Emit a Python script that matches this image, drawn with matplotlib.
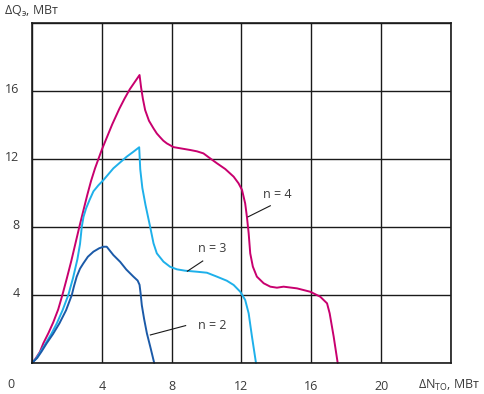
import matplotlib
matplotlib.use("Agg")
import matplotlib.pyplot as plt
import matplotlib.transforms as mtransforms

plt.rcParams['font.family'] = ['Open Sans', 'DejaVu Sans']

# Data
n4_x = [0, 0.2, 0.45, 0.65, 0.95, 1.22, 1.5, 1.74, 2.0, 2.25, 2.48, 2.71, 2.95, 3.17, 3.38, 3.61,
        3.84, 4.0, 4.3, 4.6, 5.0, 5.3, 5.6, 5.9, 6.16, 6.25, 6.35, 6.48, 6.7, 6.96, 7.15, 7.34, 7.52,
        7.72, 8.1, 8.49, 9.06, 9.45, 9.82, 10.2, 10.59, 11.07, 11.55, 11.83, 12.03, 12.21, 12.31,
        12.41, 12.5, 12.65, 12.88, 13.27, 13.65, 14.03, 14.41, 15.18, 15.94, 16.51, 16.9, 17.05,
        17.28, 17.51]
n4_y = [0, 0.25, 0.65, 1.16, 1.78, 2.4, 3.15, 4.0, 5.0, 6.0, 7.0, 8.0, 9.0, 9.9, 10.7, 11.45,
        12.1, 12.55, 13.3, 14.05, 14.95, 15.55, 16.1, 16.55, 16.94, 16.2, 15.55, 14.88, 14.25, 13.8, 13.5, 13.28, 13.08,
        12.92, 12.7, 12.63, 12.53, 12.45, 12.33, 12.04, 11.75, 11.41, 10.96, 10.57, 10.18, 9.39, 8.6,
        7.63, 6.45, 5.67, 5.08, 4.69, 4.49, 4.43, 4.49, 4.39, 4.19, 3.9, 3.51, 2.92,
        1.55, 0]

n3_x = [0, 0.25, 0.5, 0.75, 1.1, 1.42, 1.75, 2.08, 2.35, 2.6, 2.75, 2.85, 2.95, 3.1, 3.3, 3.52,
        3.8, 4.09, 4.66, 5.43, 5.8, 6.14, 6.2, 6.32, 6.5, 6.77, 6.96, 7.15, 7.53, 7.91, 8.3, 8.77,
        9.44, 10.02, 10.59, 11.16, 11.55, 11.93, 12.21, 12.41, 12.6, 12.83]
n3_y = [0, 0.28, 0.68, 1.1, 1.7, 2.33, 3.1, 4.0, 5.0, 6.1, 7.0, 8.0, 8.6, 9.1, 9.6, 10.1,
        10.45, 10.76, 11.45, 12.14, 12.42, 12.69, 11.4, 10.3, 9.3, 8.0, 7.04, 6.45, 5.96, 5.66, 5.51, 5.43,
        5.37, 5.31, 5.08, 4.84, 4.59, 4.19, 3.71, 2.92, 1.55, 0]

n2_x = [0, 0.3, 0.55, 0.84, 1.2, 1.57, 1.95, 2.28, 2.4, 2.56, 2.75, 2.94, 3.2, 3.52, 3.85, 4.1,
        4.28, 4.66, 5.05, 5.4, 5.81, 6.05, 6.16, 6.22, 6.29, 6.42, 6.58, 6.8, 7.0]
n2_y = [0, 0.3, 0.68, 1.16, 1.7, 2.33, 3.1, 4.0, 4.5, 5.08, 5.55, 5.86, 6.25, 6.55, 6.75, 6.84,
        6.84, 6.35, 5.95, 5.5, 5.08, 4.85, 4.6, 4.1, 3.4, 2.6, 1.75, 0.85, 0]

x_ticks = [4, 8, 12, 16, 20]
y_ticks = [4, 8, 12, 16]
labels = ["n = 4", "n = 3", "n = 2"]
label_pos = [(14.05, 9.9), (10.3, 6.75), (10.35, 2.2)]
leader_from = [(13.65, 9.25), (9.78, 6.0), (8.8, 2.2)]
leader_to = [(12.38, 8.6), (8.9, 5.4), (6.78, 1.65)]

colors = ["#c8006e", "#1eb0ea", "#1b5aa8"]
txt_color = "#3a3a3a"

fig = plt.figure(figsize=(4.85, 3.94), dpi=100)
ax = fig.add_axes([32/485, 31/394, (451-32)/485, (363-23)/394])
ax.set_xlim(0, 24)
ax.set_ylim(0, 20)

ax.set_xticks([0] + x_ticks + [24])
ax.set_xticklabels([""] + [str(v) for v in x_ticks] + [""])
ax.set_yticks([0] + y_ticks + [20])
ax.set_yticklabels([""] + [str(v) for v in y_ticks] + [""])
ax.tick_params(length=0, labelsize=9, colors=txt_color)
ax.tick_params(axis='x', pad=12)
ax.tick_params(axis='y', pad=9)
ax.grid(True, color="#1a1a1a", linewidth=1.0)
ax.set_axisbelow(True)
for s in ax.spines.values():
    s.set_color("#1a1a1a")
    s.set_linewidth(1.2)

offset = mtransforms.ScaledTranslation(0, 3/100, fig.dpi_scale_trans)
for lab in ax.get_yticklabels():
    lab.set_transform(lab.get_transform() + offset)

for xs, ys, c in zip([n4_x, n3_x, n2_x], [n4_y, n3_y, n2_y], colors):
    ax.plot(xs, ys, color=c, linewidth=1.4, clip_on=False,
            solid_joinstyle='round', solid_capstyle='round')

for lab, pos, f, t in zip(labels, label_pos, leader_from, leader_to):
    ax.text(pos[0], pos[1], lab, fontsize=9, color=txt_color, ha='center', va='center')
    ax.plot([f[0], t[0]], [f[1], t[1]], color="#1a1a1a", linewidth=0.8)

fig.text(11/485, 1 - 385/394, "0", fontsize=9, color=txt_color, ha='center', va='center')
fig.text(4/485, 1 - 11/394, "ΔQ$_\\mathregular{э}$, МВт", fontsize=9, color=txt_color,
         ha='left', va='center')
fig.text(418/485, 1 - 385/394, "ΔN$_\\mathregular{ТО}$, МВт", fontsize=9, color=txt_color,
         ha='left', va='center')

fig.savefig("out.png", dpi=100)
